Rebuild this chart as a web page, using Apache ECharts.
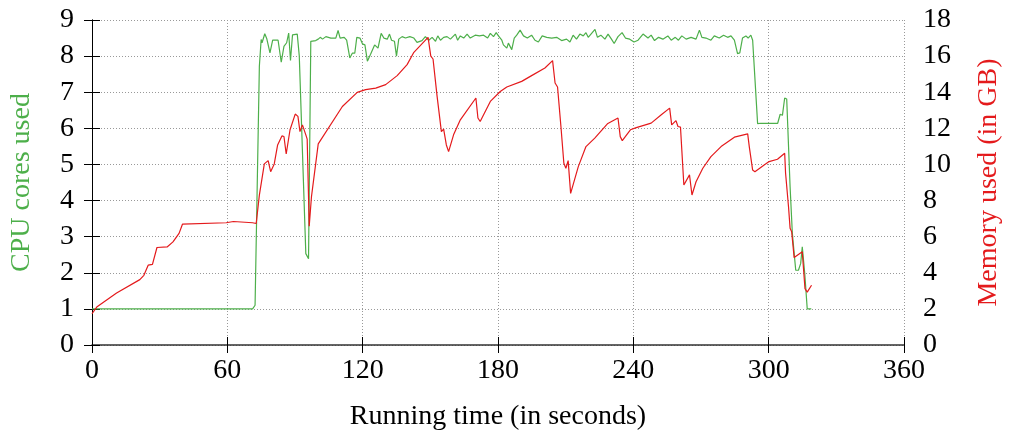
<!DOCTYPE html>
<html>
<head>
<meta charset="utf-8">
<script src="https://cdn.jsdelivr.net/npm/echarts@6/dist/echarts.min.js"></script>
<style>
html,body{margin:0;padding:0;background:#fff;}
#chart{width:1011px;height:440px;}
</style>
</head>
<body>
<div id="chart"></div>
<script>
var xTicks = [0, 60, 120, 180, 240, 300, 360];
var cpuTicks = [0, 1, 2, 3, 4, 5, 6, 7, 8, 9];
var memTicks = [0, 2, 4, 6, 8, 10, 12, 14, 16, 18];

var cpuTime = [0, 71.2, 72.3, 74.2, 75.0, 75.4, 76.6, 77.5, 78.9, 80.1, 82.5, 83.9, 85.1, 86.3, 87.2, 88.0, 88.9, 91.0, 91.9, 94.8, 96.0, 97.0, 99.2, 100.3, 101.2, 102.2, 103.7, 105.9, 108.1, 109.1, 110.0, 111.8, 112.9, 114.3, 115.4, 116.5, 117.4, 118.8, 119.9, 121.0, 122.1, 123.5, 125.3, 126.8, 128.2, 129.4, 130.9, 131.9, 132.8, 134.1, 135.0, 136.0, 137.5, 139.0, 140.9, 142.7, 144.1, 146.3, 147.8, 149.3, 150.8, 152.3, 153.3, 154.5, 155.9, 157.4, 158.9, 161.1, 162.1, 163.3, 164.8, 166.3, 167.7, 169.9, 171.8, 173.6, 175.4, 176.6, 178.0, 179.2, 180.2, 181.7, 182.4, 183.9, 184.6, 186.1, 187.2, 188.3, 189.8, 191.3, 193.0, 194.9, 196.4, 197.9, 199.6, 201.6, 203.8, 206.0, 208.2, 210.4, 211.9, 213.3, 214.8, 216.3, 217.8, 219.0, 220.0, 221.5, 223.0, 224.1, 225.6, 227.4, 228.8, 230.3, 231.5, 233.2, 235.0, 236.5, 238.4, 240.3, 242.1, 244.3, 246.5, 247.9, 249.4, 251.2, 253.1, 255.3, 256.8, 258.6, 260.0, 261.5, 263.4, 265.6, 267.8, 269.3, 270.4, 272.2, 274.4, 275.9, 278.1, 280.0, 281.8, 283.3, 284.8, 286.2, 287.2, 288.4, 289.9, 290.9, 292.1, 292.9, 295.1, 296.5, 304.0, 305.1, 306.1, 307.1, 308.0, 309.5, 310.5, 312.0, 313.2, 314.2, 314.9, 316.0, 317.1, 318.9];
var cpuCores = [1.0, 1.0, 1.1, 7.72, 8.46, 8.37, 8.62, 8.48, 8.09, 8.44, 8.44, 7.83, 8.27, 8.37, 8.64, 7.88, 8.59, 8.61, 8.0, 2.53, 2.39, 8.41, 8.43, 8.47, 8.52, 8.47, 8.54, 8.5, 8.5, 8.71, 8.5, 8.52, 8.44, 7.95, 8.08, 8.08, 8.52, 8.5, 8.34, 8.31, 7.86, 8.05, 8.31, 8.22, 8.63, 8.5, 8.47, 8.61, 8.44, 8.41, 8.0, 8.47, 8.54, 8.5, 8.54, 8.5, 8.38, 8.43, 8.54, 8.44, 8.52, 8.41, 8.56, 8.44, 8.52, 8.54, 8.47, 8.61, 8.44, 8.56, 8.5, 8.61, 8.5, 8.58, 8.56, 8.58, 8.5, 8.63, 8.54, 8.65, 8.56, 8.44, 8.31, 8.22, 8.36, 8.18, 8.5, 8.58, 8.72, 8.56, 8.5, 8.58, 8.44, 8.39, 8.56, 8.52, 8.5, 8.52, 8.43, 8.47, 8.39, 8.58, 8.47, 8.61, 8.56, 8.65, 8.52, 8.63, 8.74, 8.52, 8.58, 8.47, 8.61, 8.47, 8.35, 8.54, 8.65, 8.5, 8.47, 8.39, 8.44, 8.61, 8.5, 8.58, 8.43, 8.52, 8.47, 8.56, 8.44, 8.52, 8.44, 8.56, 8.47, 8.52, 8.47, 8.72, 8.52, 8.5, 8.44, 8.56, 8.5, 8.58, 8.52, 8.56, 8.44, 8.07, 8.09, 8.5, 8.56, 8.5, 8.58, 8.44, 6.13, 6.14, 6.14, 6.39, 6.36, 6.84, 6.81, 4.38, 3.09, 2.07, 2.07, 2.26, 2.72, 1.98, 1.0, 1.0];

var memTime = [0, 2.1, 10.9, 21.2, 23.0, 24.9, 26.8, 28.8, 33.3, 35.9, 38.6, 40.1, 59.5, 62.7, 71.2, 72.8, 74.2, 76.4, 78.1, 79.2, 80.8, 82.3, 84.2, 85.1, 86.1, 87.8, 90.1, 91.3, 92.2, 93.3, 94.8, 95.4, 96.3, 97.3, 100.3, 111.0, 117.6, 121.3, 125.8, 130.2, 135.3, 139.7, 142.7, 149.0, 150.2, 151.2, 153.0, 154.9, 155.9, 157.1, 158.1, 160.3, 163.3, 170.2, 171.1, 172.1, 176.6, 181.0, 183.9, 190.5, 194.9, 200.8, 204.2, 205.3, 206.4, 207.9, 209.2, 210.1, 211.1, 212.2, 213.0, 215.6, 219.0, 222.9, 228.5, 233.2, 234.2, 235.1, 238.7, 241.3, 247.9, 252.4, 256.1, 257.0, 258.9, 259.8, 260.9, 262.4, 263.1, 264.9, 266.0, 267.8, 270.8, 274.4, 278.9, 284.8, 290.7, 291.4, 292.9, 293.9, 298.0, 300.2, 303.9, 307.1, 307.5, 308.8, 309.5, 310.2, 311.3, 314.9, 316.1, 317.1, 319.0];
var memGB = [1.73, 2.1, 2.88, 3.62, 3.86, 4.42, 4.47, 5.4, 5.43, 5.71, 6.18, 6.69, 6.77, 6.84, 6.77, 6.73, 8.3, 10.03, 10.21, 9.6, 10.03, 11.08, 11.58, 11.55, 10.58, 11.92, 12.79, 12.66, 11.82, 12.19, 11.64, 11.4, 6.58, 8.21, 11.14, 13.21, 13.99, 14.14, 14.23, 14.42, 14.92, 15.53, 16.21, 17.04, 16.0, 15.84, 13.77, 11.82, 11.96, 11.08, 10.71, 11.64, 12.47, 13.68, 12.57, 12.38, 13.49, 14.04, 14.29, 14.6, 14.92, 15.34, 15.75, 14.51, 14.29, 12.1, 10.07, 9.79, 10.21, 8.4, 8.45, 9.88, 10.99, 11.46, 12.25, 12.57, 11.54, 11.32, 11.92, 12.04, 12.29, 12.75, 13.12, 12.19, 12.43, 12.1, 12.07, 8.86, 8.81, 9.42, 8.31, 9.04, 9.79, 10.43, 10.99, 11.51, 11.69, 10.99, 9.69, 9.6, 9.97, 10.16, 10.29, 10.62, 9.51, 7.66, 6.46, 6.27, 4.84, 5.16, 3.12, 2.93, 3.31];

function zip(a, b) { return a.map(function (v, i) { return [v, b[i]]; }); }

var FONT = 'Liberation Serif';
var FS = 28;
var GREEN = '#4daf4a';
var RED = '#e41a1c';

var chart = echarts.init(document.getElementById('chart'), null, { renderer: 'canvas' });
chart.setOption({
  animation: false,
  backgroundColor: '#fff',
  textStyle: { fontFamily: FONT },
  grid: { left: 92, right: 104, top: 20, bottom: 95 },
  xAxis: [{
    type: 'value', position: 'bottom',
    min: xTicks[0], max: xTicks[xTicks.length - 1], interval: xTicks[1] - xTicks[0],
    name: 'Running time (in seconds)', nameLocation: 'middle', nameGap: 58,
    nameTextStyle: { fontFamily: FONT, fontSize: FS, color: '#000' },
    axisLine: { show: true, lineStyle: { color: '#333', width: 1.5 } },
    axisTick: { show: true, inside: true, length: 8, lineStyle: { color: '#000' } },
    axisLabel: { fontFamily: FONT, fontSize: FS, color: '#000', margin: 12 },
    splitLine: { show: true, lineStyle: { color: '#999', width: 1, type: [1, 2] } }
  }, {
    type: 'value', position: 'top',
    min: xTicks[0], max: xTicks[xTicks.length - 1], interval: xTicks[1] - xTicks[0],
    axisLine: { show: false },
    axisTick: { show: true, inside: true, length: 8, lineStyle: { color: '#000' } },
    axisLabel: { show: false },
    splitLine: { show: false }
  }],
  yAxis: [{
    type: 'value', position: 'left',
    min: cpuTicks[0], max: cpuTicks[cpuTicks.length - 1], interval: 1,
    name: 'CPU cores used', nameLocation: 'middle', nameGap: 56,
    nameTextStyle: { fontFamily: FONT, fontSize: FS, color: GREEN },
    axisLine: { show: true, lineStyle: { color: '#000', width: 1 } },
    axisTick: { show: true, inside: true, length: 8, lineStyle: { color: '#000' } },
    axisLabel: { fontFamily: FONT, fontSize: FS, color: '#000', margin: 18 },
    splitLine: { show: true, lineStyle: { color: '#999', width: 1, type: [1, 2] } }
  }, {
    type: 'value', position: 'right',
    min: memTicks[0], max: memTicks[memTicks.length - 1], interval: 2,
    name: 'Memory used (in GB)', nameLocation: 'middle', nameGap: 71,
    nameRotate: 90,
    nameTextStyle: { fontFamily: FONT, fontSize: FS, color: RED },
    axisLine: { show: true, lineStyle: { color: '#000', width: 1 } },
    axisTick: { show: true, inside: true, length: 8, lineStyle: { color: '#000' } },
    axisLabel: { fontFamily: FONT, fontSize: FS, color: '#000', margin: 19 },
    splitLine: { show: false }
  }],
  series: [{
    name: 'CPU', type: 'line', xAxisIndex: 0, yAxisIndex: 0,
    data: zip(cpuTime, cpuCores), showSymbol: false, symbol: 'none',
    lineStyle: { color: GREEN, width: 1.2 }, z: 3
  }, {
    name: 'Memory', type: 'line', xAxisIndex: 0, yAxisIndex: 1,
    data: zip(memTime, memGB), showSymbol: false, symbol: 'none',
    lineStyle: { color: RED, width: 1.2 }, z: 4
  }]
});
</script>
</body>
</html>
